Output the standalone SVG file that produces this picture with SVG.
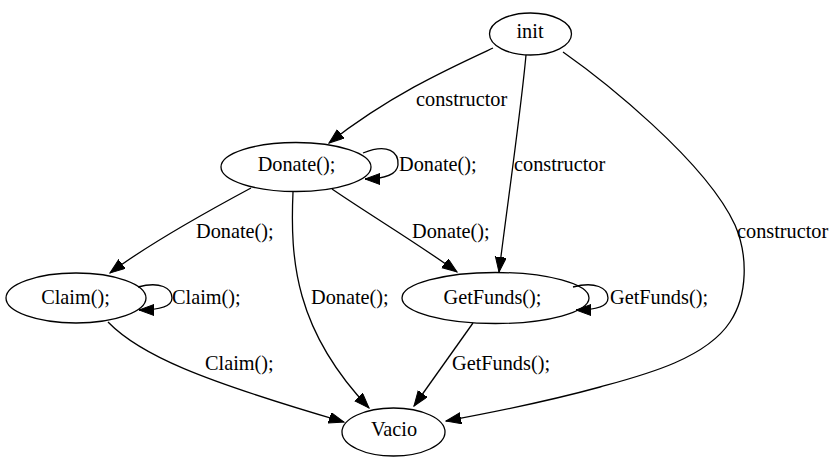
<svg xmlns="http://www.w3.org/2000/svg" width="838" height="464" viewBox="0 0 838 464">
<style>
.n ellipse{fill:none;stroke:#000;stroke-width:1.3}
text{font-family:"Liberation Serif",Tinos,"Noto Serif","DejaVu Serif",Times,FreeSerif,serif;font-size:20.3px;fill:#000}
.n text{text-anchor:middle}
.e path{fill:none;stroke:#000;stroke-width:1.3;marker-end:url(#ah)}
</style>
<defs>
<marker id="ah" markerUnits="userSpaceOnUse" markerWidth="16" markerHeight="12" refX="15" refY="5.5" orient="auto">
<path d="M0,0 L15,5.5 L0,11 z" fill="#000" stroke="#000" stroke-width="1"/>
</marker>
</defs>
<rect width="838" height="464" fill="#fff"/>
<g class="e" id="edges">
<path d="M493,48 C450,68 390,95 329,143"/>
<path d="M526,55 C521,110 508,200 499,272"/>
<path d="M563,52 C600,78 705,160 735,225 C748,255 748,295 730,322 C705,360 640,376 600,387 C560,398 500,411 446,421"/>
<path d="M363,153 C388,143 399,152 398,165 C397,174 385,179 365,179"/>
<path d="M251,188 C210,210 150,243 110,273"/>
<path d="M332,189 C370,215 420,245 457,272"/>
<path d="M293,192 C290,260 295,330 369,408"/>
<path d="M138,287 C160,281 172,288 172,298 C172,306 162,310 139,310"/>
<path d="M573,287 C595,281 608,288 608,298 C608,306 598,310 576,310"/>
<path d="M108,322 C140,355 200,380 344,422"/>
<path d="M473,323 L414,406"/>
<text x="416" y="106">constructor</text>
<text x="514" y="171">constructor</text>
<text x="737" y="238">constructor</text>
<text x="399" y="171">Donate();</text>
<text x="196" y="238">Donate();</text>
<text x="412" y="238">Donate();</text>
<text x="311" y="304">Donate();</text>
<text x="172" y="304">Claim();</text>
<text x="610" y="304">GetFunds();</text>
<text x="205" y="370">Claim();</text>
<text x="452" y="370">GetFunds();</text>
</g>
<g class="n" id="init"><ellipse cx="530.5" cy="34" rx="41" ry="21"/><text x="530" y="38">init</text></g>
<g class="n" id="donate"><ellipse cx="296" cy="167" rx="75" ry="24.5"/><text x="296.5" y="171">Donate();</text></g>
<g class="n" id="claim"><ellipse cx="76" cy="298" rx="70" ry="25"/><text x="75.5" y="304">Claim();</text></g>
<g class="n" id="getfunds"><ellipse cx="495.5" cy="298" rx="93.5" ry="25.5"/><text x="492.5" y="304">GetFunds();</text></g>
<g class="n" id="vacio"><ellipse cx="393.5" cy="432" rx="51.5" ry="24"/><text x="394" y="436">Vacio</text></g>
</svg>
